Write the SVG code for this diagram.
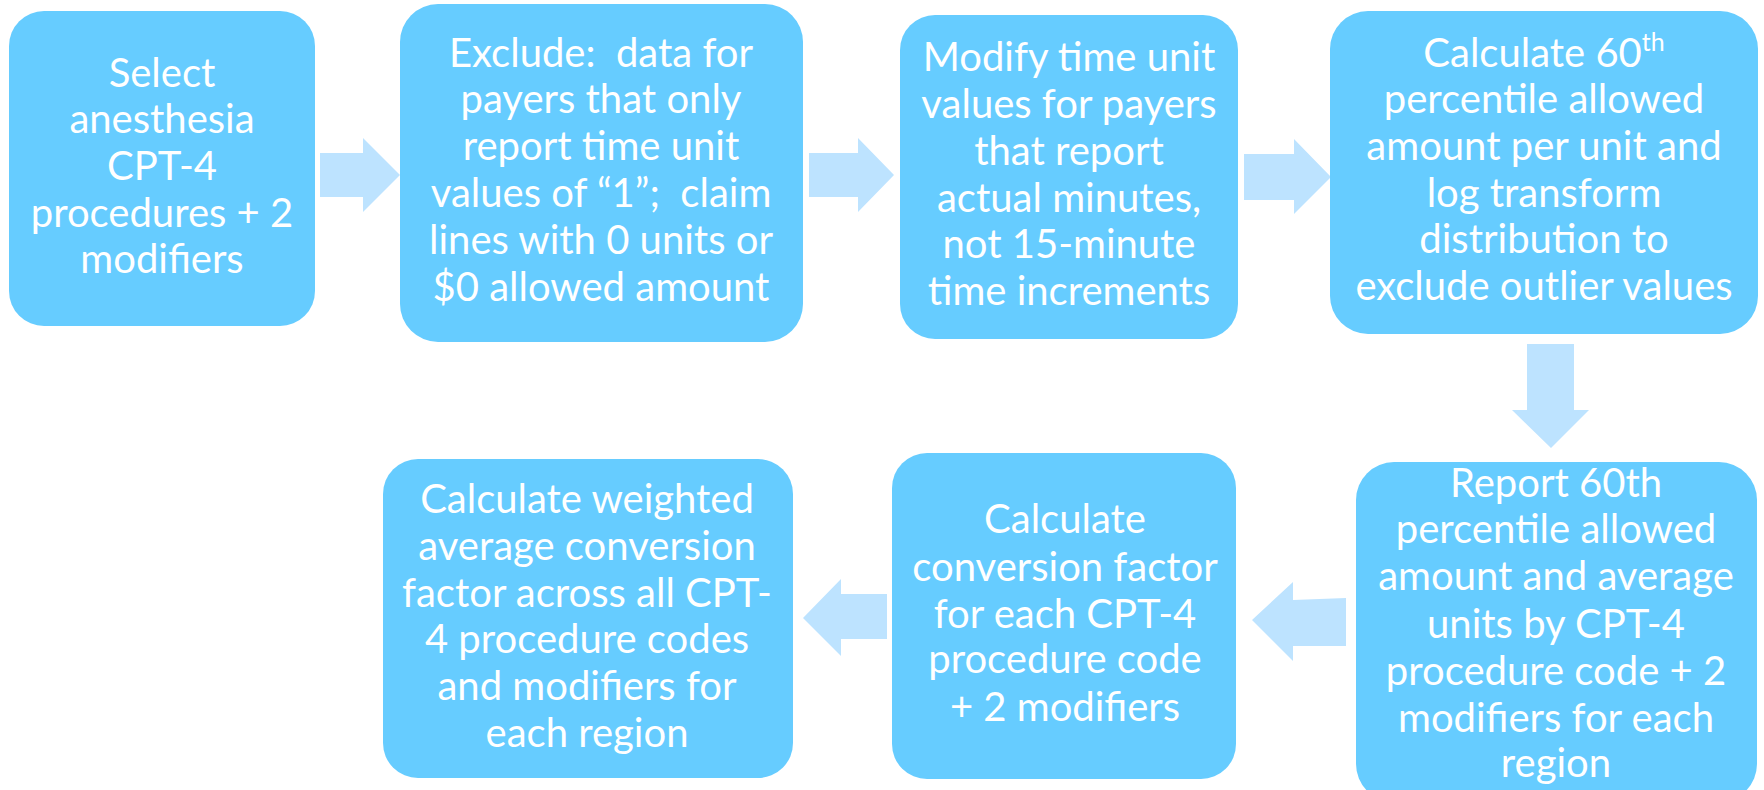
<svg xmlns="http://www.w3.org/2000/svg" width="1764" height="790" viewBox="0 0 1764 790">
<style>
.box{fill:#66CCFF;}
.arr{fill:#BDE3FF;}
text{font-family:Lato,"Open Sans","Liberation Sans",sans-serif;font-size:40px;fill:#FFFFFF;text-anchor:middle;}
</style>
<rect width="1764" height="790" fill="#FFFFFF"/>
<g id="connectors">
<polygon class="arr" points="320,153 363,153 363,138 400,175 363,212 363,197 320,197"/>
<polygon class="arr" points="809,153 858,153 858,138 894,175 858,212 858,197 809,197"/>
<polygon class="arr" points="1244,154 1294,154 1294,139 1331,177 1294,214 1294,200 1244,200"/>
<polygon class="arr" points="1527,344 1574,344 1574,410 1589,410 1551,448 1512,410 1527,410"/>
<polygon class="arr" points="1346,598 1293,600 1293,582 1252,620 1293,661 1293,646 1346,646"/>
<polygon class="arr" points="887,594 841,594 841,579 803,618 841,656 841,639 887,639"/>
</g>
<g id="n1">
<rect class="box" x="9" y="11" width="306" height="315" rx="35"/>
<text x="162" y="87">Select</text>
<text x="162" y="133">anesthesia</text>
<text x="162" y="180">CPT-4</text>
<text x="162" y="227">procedures + 2</text>
<text x="162" y="273">modifiers</text>
</g>
<g id="n2">
<rect class="box" x="400" y="4" width="403" height="338" rx="38"/>
<text x="601" y="67" xml:space="preserve">Exclude:  data for</text>
<text x="601" y="113">payers that only</text>
<text x="601" y="160">report time unit</text>
<text x="601" y="207" xml:space="preserve">values of “1”;  claim</text>
<text x="601" y="254">lines with 0 units or</text>
<text x="601" y="301">$0 allowed amount</text>
</g>
<g id="n3">
<rect class="box" x="900" y="15" width="338" height="324" rx="35"/>
<text x="1069" y="71">Modify time unit</text>
<text x="1069" y="118">values for payers</text>
<text x="1069" y="165">that report</text>
<text x="1069" y="212">actual minutes,</text>
<text x="1069" y="258">not 15-minute</text>
<text x="1069" y="305">time increments</text>
</g>
<g id="n4">
<rect class="box" x="1330" y="11" width="428" height="323" rx="38"/>
<text x="1544" y="67">Calculate 60<tspan font-size="25" dy="-16">th</tspan></text>
<text x="1544" y="113">percentile allowed</text>
<text x="1544" y="160">amount per unit and</text>
<text x="1544" y="207">log transform</text>
<text x="1544" y="253">distribution to</text>
<text x="1544" y="300">exclude outlier values</text>
</g>
<g id="n5">
<rect class="box" x="1356" y="462" width="401" height="340" rx="38"/>
<text x="1556" y="497">Report 60th</text>
<text x="1556" y="543">percentile allowed</text>
<text x="1556" y="590">amount and average</text>
<text x="1556" y="638">units by CPT-4</text>
<text x="1556" y="685">procedure code + 2</text>
<text x="1556" y="732">modifiers for each</text>
<text x="1556" y="777">region</text>
</g>
<g id="n6">
<rect class="box" x="892" y="453" width="344" height="326" rx="35"/>
<text x="1065" y="533">Calculate</text>
<text x="1065" y="581">conversion factor</text>
<text x="1065" y="628">for each CPT-4</text>
<text x="1065" y="673">procedure code</text>
<text x="1065" y="721">+ 2 modifiers</text>
</g>
<g id="n7">
<rect class="box" x="383" y="459" width="410" height="319" rx="35"/>
<text x="587" y="513">Calculate weighted</text>
<text x="587" y="560">average conversion</text>
<text x="587" y="607">factor across all CPT-</text>
<text x="587" y="653">4 procedure codes</text>
<text x="587" y="700">and modifiers for</text>
<text x="587" y="747">each region</text>
</g>
</svg>
